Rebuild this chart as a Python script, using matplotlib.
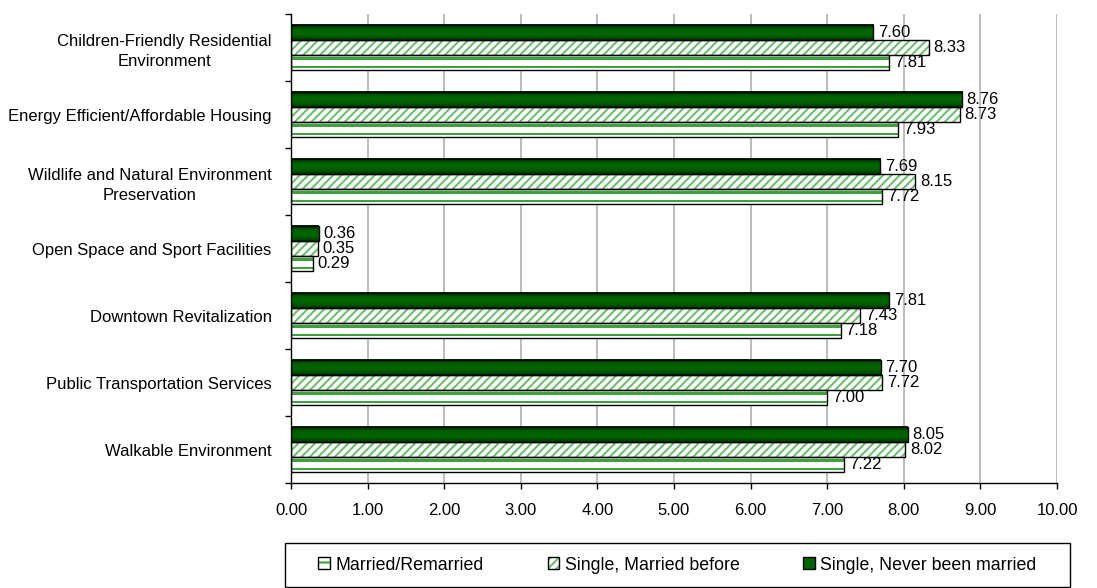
import matplotlib
matplotlib.use("Agg")
import matplotlib.pyplot as plt
import numpy as np
from matplotlib.patches import Patch, Rectangle
from matplotlib.legend_handler import HandlerBase
from matplotlib.colors import LinearSegmentedColormap

plt.rcParams['font.family'] = ['Liberation Sans', 'DejaVu Sans']

categories = [
    "Children-Friendly Residential\nEnvironment",
    "Energy Efficient/Affordable Housing",
    "Wildlife and Natural Environment\nPreservation",
    "Open Space and Sport Facilities",
    "Downtown Revitalization",
    "Public Transportation Services",
    "Walkable Environment",
]
never_married = [7.60, 8.76, 7.69, 0.36, 7.81, 7.70, 8.05]
married_before = [8.33, 8.73, 8.15, 0.35, 7.43, 7.72, 8.02]
married_remarried = [7.81, 7.93, 7.72, 0.29, 7.18, 7.00, 7.22]
series_names = ["Married/Remarried", "Single, Married before", "Single, Never been married"]
x_ticks = [0, 1, 2, 3, 4, 5, 6, 7, 8, 9, 10]

DARK = "#006600"
HATCH_LIGHT = "#6cc06c"
LINE_GREEN = "#3aa43a"
FS = 12

fig = plt.figure(figsize=(10.97, 5.88), dpi=100)
ax = fig.add_axes([291 / 1097, 1 - 483 / 588, (1057 - 291) / 1097, (483 - 14) / 588])

n = len(categories)
y = np.arange(n)[::-1].astype(float)  # first category on top
h = 0.224

# Single, Never been married: dark bar with a shaded gradient
grad = np.array([0.3, 0.65, 0.9, 1.0, 1.0, 0.95, 0.75, 0.45]).reshape(-1, 1)
cmap_dark = LinearSegmentedColormap.from_list("dk", ["#001a00", DARK])
for yi, v in zip(y, never_married):
    yc = yi + h
    ax.imshow(grad, cmap=cmap_dark, vmin=0, vmax=1, aspect="auto",
              extent=[0, v, yc - h / 2, yc + h / 2], zorder=2, interpolation="bicubic")
ax.barh(y + h, never_married, height=h, facecolor="none", edgecolor="black", linewidth=1.0, zorder=3)

# Single, Married before: diagonal hatch
plt.rcParams['hatch.linewidth'] = 1.5
ax.barh(y, married_before, height=h, facecolor="white", edgecolor=HATCH_LIGHT,
        hatch="////", linewidth=0, zorder=2)
ax.barh(y, married_before, height=h, facecolor="none", edgecolor="black", linewidth=1.0, zorder=3)

# Married/Remarried: white bar with two horizontal green stripes
yr = y - h
ax.barh(yr, married_remarried, height=h, facecolor="white", edgecolor="none", zorder=2)
for off in (0.26 * h, -0.28 * h):
    ax.barh(yr + off, married_remarried, height=0.16 * h, facecolor=LINE_GREEN,
            edgecolor="none", zorder=2.5)
ax.barh(yr, married_remarried, height=h, facecolor="none", edgecolor="black", linewidth=1.0, zorder=3)

# value labels
for vals, off in [(never_married, h), (married_before, 0.0), (married_remarried, -h)]:
    for yi, v in zip(y, vals):
        ax.text(v + 0.06, yi + off, f"{v:.2f}", va="center", ha="left", fontsize=FS, zorder=4)

ax.set_xlim(0, 10)
ax.set_ylim(-0.5, n - 0.5)
ax.set_xticks(x_ticks)
ax.set_xticklabels([f"{t:.2f}" for t in x_ticks], fontsize=FS)
ax.set_yticks(y)
ax.set_yticklabels(categories, fontsize=FS)
for lbl in ax.get_yticklabels():
    lbl.set_multialignment("center")
    lbl.set_linespacing(1.45)
ax.tick_params(axis="y", length=0, pad=14)
ax.set_yticks(np.arange(n + 1) - 0.5, minor=True)
ax.tick_params(axis="y", which="minor", length=4.5, width=1, color="black")
ax.tick_params(axis="x", length=4.5, width=1, pad=10, color="black")

ax.grid(axis="x", color="#b0b0b0", linewidth=1.2, zorder=0)
ax.set_axisbelow(True)
for s in ["top", "right"]:
    ax.spines[s].set_visible(False)
for s in ["left", "bottom"]:
    ax.spines[s].set_color("black")
    ax.spines[s].set_linewidth(1.0)

# legend
h1 = Patch(facecolor="white", edgecolor=LINE_GREEN, hatch="--", linewidth=0)
h2 = Patch(facecolor="white", edgecolor=HATCH_LIGHT, hatch="////", linewidth=0)
h3 = Patch(facecolor=DARK, edgecolor="black", linewidth=1.0)


class BoxedHandler(HandlerBase):
    def create_artists(self, legend, orig_handle, xdescent, ydescent, width, height, fontsize, trans):
        fill = Rectangle((-xdescent, -ydescent), width, height,
                         facecolor=orig_handle.get_facecolor(), edgecolor=orig_handle.get_edgecolor(),
                         hatch=orig_handle.get_hatch(), linewidth=0, transform=trans)
        frame = Rectangle((-xdescent, -ydescent), width, height, facecolor="none",
                          edgecolor="black", linewidth=1.0, transform=trans)
        return [fill, frame]


leg = fig.legend([h1, h2, h3], series_names, ncol=3, loc="center",
                 bbox_to_anchor=(677.5 / 1097, 1 - 565 / 588),
                 fontsize=12.8, frameon=False,
                 handlelength=0.65, handleheight=0.65, handletextpad=0.3,
                 columnspacing=3.6, borderpad=0, borderaxespad=0,
                 handler_map={Patch: BoxedHandler()})

# legend frame
fig.patches.append(Rectangle((285 / 1097, 1 - 587 / 588), (1070 - 285) / 1097, 44 / 588,
                             transform=fig.transFigure, facecolor="none",
                             edgecolor="black", linewidth=1.0))

fig.savefig("out.png", dpi=100)
